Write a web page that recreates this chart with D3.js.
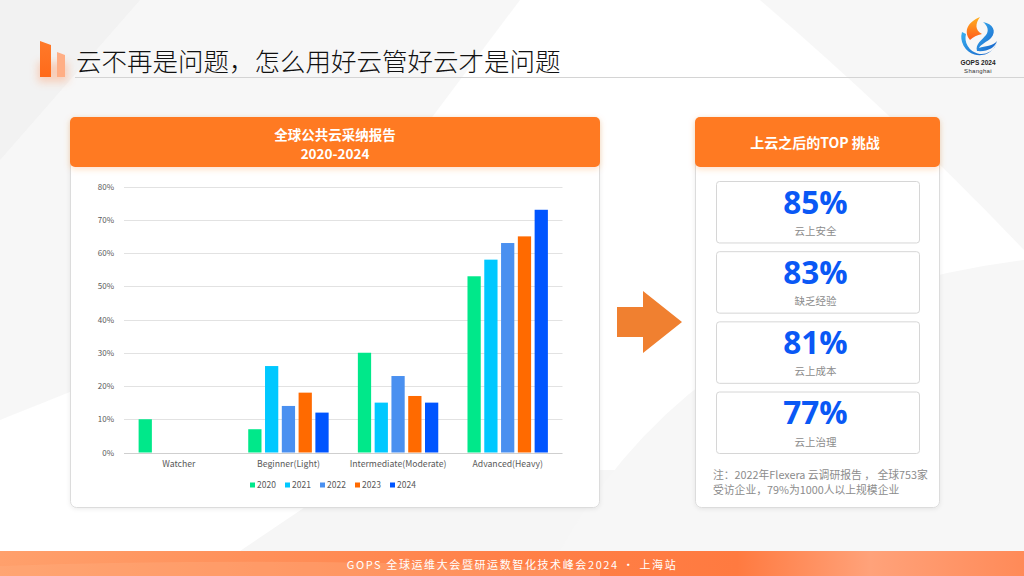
<!DOCTYPE html>
<html><head><meta charset="utf-8">
<script src="https://cdn.jsdelivr.net/npm/d3@7"></script>
<style>
html,body{margin:0;padding:0;background:#fff;}
svg{display:block;}
</style></head>
<body>
<svg id="c" width="1024" height="576"></svg>
<script>
// ---- data ----
const categories = ["Watcher", "Beginner(Light)", "Intermediate(Moderate)", "Advanced(Heavy)"];
const years = ["2020", "2021", "2022", "2023", "2024"];
const v2020 = [0.10, 0.07, 0.30, 0.53];
const v2021 = [null, 0.26, 0.15, 0.58];
const v2022 = [null, 0.14, 0.23, 0.63];
const v2023 = [null, 0.18, 0.17, 0.65];
const v2024 = [null, 0.12, 0.15, 0.73];
const yTicks = [0, 0.1, 0.2, 0.3, 0.4, 0.5, 0.6, 0.7, 0.8];
const yearColors = ["#00E88A", "#00C8FF", "#4A90F0", "#FF6A00", "#0055FF"];
const challengeValues = ["85%", "83%", "81%", "77%"];
const challengeLabels = ["云上安全", "缺乏经验", "云上成本", "云上治理"];
const titleText = "云不再是问题，怎么用好云管好云才是问题";
const chartTitle = ["全球公共云采纳报告", "2020-2024"];
const rightTitle = "上云之后的TOP 挑战";
const noteLines = ["注：2022年Flexera 云调研报告 ， 全球753家", "受访企业，79%为1000人以上规模企业"];
const footerText = "GOPS 全球运维大会暨研运数智化技术峰会2024 · 上海站";

const series = [v2020, v2021, v2022, v2023, v2024];
const FONT = "'Noto Sans CJK SC','Noto Sans',sans-serif";

const svg = d3.select("#c");
const defs = svg.append("defs");

// ---- background ----
svg.append("rect").attr("width", 1024).attr("height", 576).attr("fill", "#ffffff");
svg.append("path").attr("d", "M0,0 L520,0 L430,120 L300,300 L0,420 Z").attr("fill", "#f5f5f5").attr("opacity", 0.8);
svg.append("path").attr("d", "M0,0 L140,0 L0,160 Z").attr("fill", "#efefef").attr("opacity", 0.6);
svg.append("path").attr("d", "M760,0 L1024,0 L1024,250 Q900,120 760,0 Z").attr("fill", "#f5f5f5").attr("opacity", 0.8);
svg.append("path").attr("d", "M240,551 L360,470 L720,470 L800,551 Z").attr("fill", "#f6f6f6");
svg.append("path").attr("d", "M560,551 Q700,300 1024,260 L1024,551 Z").attr("fill", "#f7f7f7");

// shadow filter
const sh = defs.append("filter").attr("id", "sh").attr("x", "-10%").attr("y", "-30%").attr("width", "120%").attr("height", "170%");
sh.append("feDropShadow").attr("dx", 0).attr("dy", 2).attr("stdDeviation", 3).attr("flood-color", "#ff7a22").attr("flood-opacity", 0.25);
const sh2 = defs.append("filter").attr("id", "sh2").attr("x", "-5%").attr("y", "-5%").attr("width", "110%").attr("height", "110%");
sh2.append("feDropShadow").attr("dx", 0).attr("dy", 1).attr("stdDeviation", 2).attr("flood-color", "#000").attr("flood-opacity", 0.08);
const blur = defs.append("filter").attr("id", "blur").attr("x", "-50%").attr("y", "-50%").attr("width", "200%").attr("height", "200%");
blur.append("feGaussianBlur").attr("stdDeviation", 4);

// ---- title ----
const ig = defs.append("linearGradient").attr("id", "ig").attr("x1", 0).attr("y1", 0).attr("x2", 0).attr("y2", 1);
ig.append("stop").attr("offset", 0).attr("stop-color", "#ff7a2a");
ig.append("stop").attr("offset", 1).attr("stop-color", "#ff6a1a");
svg.append("rect").attr("x", 38).attr("y", 62).attr("width", 30).attr("height", 20).attr("fill", "#ff8a50").attr("opacity", 0.35).attr("filter", "url(#blur)");
svg.append("path").attr("d", "M40,41 L51,45 L51,77 L40,77 Z").attr("fill", "url(#ig)");
svg.append("path").attr("d", "M57,52 L65,55 L65,77 L57,77 Z").attr("fill", "#ffae85");
svg.append("text").attr("x", 76).attr("y", 71).attr("font-family", FONT).attr("font-size", 25.5).attr("font-weight", 300)
  .attr("fill", "#111").text(titleText);
svg.append("line").attr("x1", 75).attr("x2", 1024).attr("y1", 77.5).attr("y2", 77.5).attr("stroke", "#d4d4d4").attr("stroke-width", 1);

// ---- logo ----
const logo = svg.append("g");
const lg1 = defs.append("linearGradient").attr("id", "lg1").attr("x1", 0).attr("y1", 0).attr("x2", 1).attr("y2", 1);
lg1.append("stop").attr("offset", 0).attr("stop-color", "#3ab0f0");
lg1.append("stop").attr("offset", 1).attr("stop-color", "#1560c8");
const lg2 = defs.append("linearGradient").attr("id", "lg2").attr("x1", 0).attr("y1", 0).attr("x2", 0).attr("y2", 1);
lg2.append("stop").attr("offset", 0).attr("stop-color", "#ffb020");
lg2.append("stop").attr("offset", 1).attr("stop-color", "#ff5a1a");
logo.append("path").attr("d", "M962,32 A18,18 0 0 0 997,42 A16,16 0 0 1 966,34 Z").attr("fill", "url(#lg1)");
logo.append("path").attr("d", "M970,40 C963,31 968,22 980,17 C975,24 975,30 982,34 C977,35 973,37 970,40 Z").attr("fill", "url(#lg2)");
logo.append("path").attr("d", "M983,22 C993,24 997,31 991,38 C987,42 981,44 979,48 C985,46 993,46 997,41 C995,48 987,52 977,51 C975,44 982,40 986,35 C989,31 988,26 983,22 Z").attr("fill", "url(#lg1)");
logo.append("text").attr("x", 978).attr("y", 64.5).attr("text-anchor", "middle").attr("font-family", "'Liberation Sans',sans-serif")
  .attr("font-size", 6.5).attr("font-weight", 700).attr("fill", "#222").text("GOPS 2024");
logo.append("text").attr("x", 978).attr("y", 72.5).attr("text-anchor", "middle").attr("font-family", "'Liberation Sans',sans-serif")
  .attr("font-size", 6).attr("fill", "#333").attr("letter-spacing", 0.3).text("Shanghai");

// ---- left panel ----
svg.append("rect").attr("x", 70.5).attr("y", 117.5).attr("width", 529).attr("height", 390).attr("rx", 6)
  .attr("fill", "#fff").attr("stroke", "#dcdcdc").attr("filter", "url(#sh2)");
svg.append("rect").attr("x", 70).attr("y", 117).attr("width", 530).attr("height", 50).attr("rx", 5)
  .attr("fill", "#ff7a22").attr("filter", "url(#sh)");
svg.append("text").attr("x", 335).attr("y", 139.5).attr("text-anchor", "middle").attr("font-family", FONT)
  .attr("font-size", 13.5).attr("font-weight", 700).attr("fill", "#fff").text(chartTitle[0]);
svg.append("text").attr("x", 335).attr("y", 158.5).attr("text-anchor", "middle").attr("font-family", FONT)
  .attr("font-size", 13.5).attr("font-weight", 700).attr("fill", "#fff").text(chartTitle[1]);

// chart
const x = d3.scaleBand().domain(categories).range([124, 562.5]).paddingInner(0).paddingOuter(0);
const groupW = 80.4;
const xs = d3.scaleBand().domain(years).range([0, groupW]).paddingInner(0.21).paddingOuter(0);
const y = d3.scaleLinear().domain([0, 0.8]).range([452.5, 186.5]);

const grid = svg.append("g");
grid.selectAll("line").data(yTicks).join("line")
  .attr("x1", 124).attr("x2", 562.5)
  .attr("y1", d => Math.round(y(d)) + 0.5).attr("y2", d => Math.round(y(d)) + 0.5)
  .attr("stroke", d => d === 0 ? "#cfcfcf" : "#e2e2e2").attr("stroke-width", 1);

const yAxis = d3.axisLeft(y).tickValues(yTicks).tickFormat(d3.format(".0%")).tickSize(0).tickPadding(0);
const ya = svg.append("g").attr("transform", "translate(114,0)").call(yAxis);
ya.select(".domain").remove();
ya.selectAll("text").attr("font-family", FONT).attr("font-size", 8).attr("fill", "#595959");

const xAxis = d3.axisBottom(x).tickSize(0).tickPadding(0);
const xa = svg.append("g").attr("transform", "translate(0,464.5)").call(xAxis);
xa.select(".domain").remove();
xa.selectAll("text").attr("font-family", FONT).attr("font-size", 8.7).attr("fill", "#595959").attr("dy", "0.32em");

const flat = [];
categories.forEach((c, i) => {
  years.forEach((yr, j) => {
    const v = series[j][i];
    if (v != null) flat.push({ c, yr, v, j });
  });
});
svg.append("g").selectAll("rect").data(flat).join("rect")
  .attr("x", d => x(d.c) + x.bandwidth() / 2 - groupW / 2 + xs(d.yr))
  .attr("width", xs.bandwidth())
  .attr("y", d => y(d.v))
  .attr("height", d => y(0) - y(d.v))
  .attr("fill", d => yearColors[d.j]);

// legend
const leg = svg.append("g").attr("transform", "translate(250,485)");
const li = leg.selectAll("g").data(years).join("g").attr("transform", (d, i) => `translate(${i * 35},0)`);
li.append("rect").attr("x", 0).attr("y", -2.5).attr("width", 5).attr("height", 5).attr("fill", (d, i) => yearColors[i]);
li.append("text").attr("x", 7).attr("y", 0).attr("dy", "0.35em").attr("font-family", FONT).attr("font-size", 8.5)
  .attr("fill", "#595959").text(d => d);

// ---- arrow ----
svg.append("path").attr("d", "M617,307 L643,307 L643,291 L682,322 L643,353 L643,337 L617,337 Z").attr("fill", "#f08030");

// ---- right panel ----
svg.append("rect").attr("x", 695.5).attr("y", 117.5).attr("width", 244).attr("height", 390).attr("rx", 6)
  .attr("fill", "#fff").attr("stroke", "#dcdcdc").attr("filter", "url(#sh2)");
svg.append("rect").attr("x", 695).attr("y", 117).attr("width", 245).attr("height", 50).attr("rx", 5)
  .attr("fill", "#ff7a22").attr("filter", "url(#sh)");
svg.append("text").attr("x", 815).attr("y", 148).attr("text-anchor", "middle").attr("font-family", FONT)
  .attr("font-size", 14).attr("font-weight", 700).attr("fill", "#fff").text(rightTitle);

const boxY = d3.scaleBand().domain(d3.range(challengeValues.length)).range([181, 453]).paddingInner(0.124).paddingOuter(0);
const bx = svg.append("g").selectAll("g").data(challengeValues).join("g")
  .attr("transform", (d, i) => `translate(716,${boxY(i)})`);
bx.append("rect").attr("x", 0.5).attr("y", 0.5).attr("width", 203).attr("height", boxY.bandwidth()).attr("rx", 3)
  .attr("fill", "#fff").attr("stroke", "#d6d6d6");
bx.append("text").attr("x", 99.5).attr("y", 32.5).attr("text-anchor", "middle").attr("font-family", "'Open Sans','Noto Sans',sans-serif")
  .attr("font-size", 31.5).attr("font-weight", 700).attr("fill", "#0a58f5").text(d => d);
bx.append("text").attr("x", 99.5).attr("y", 54).attr("text-anchor", "middle").attr("font-family", FONT)
  .attr("font-size", 10.5).attr("fill", "#8c8c8c").text((d, i) => challengeLabels[i]);

svg.append("g").selectAll("text").data(noteLines).join("text")
  .attr("x", 713).attr("y", (d, i) => 479 + i * 15)
  .attr("font-family", FONT).attr("font-size", 10.8).attr("fill", "#8c8c8c").text(d => d);

// ---- footer ----
const fg = defs.append("linearGradient").attr("id", "fg").attr("x1", 0).attr("y1", 0).attr("x2", 1).attr("y2", 0);
fg.append("stop").attr("offset", 0).attr("stop-color", "#ffa06c");
fg.append("stop").attr("offset", 0.5).attr("stop-color", "#ff8048");
fg.append("stop").attr("offset", 0.72).attr("stop-color", "#ff7a40");
fg.append("stop").attr("offset", 0.85).attr("stop-color", "#ffa27a");
fg.append("stop").attr("offset", 1).attr("stop-color", "#ff8a58");
svg.append("rect").attr("x", 0).attr("y", 551).attr("width", 1024).attr("height", 25).attr("fill", "url(#fg)");
svg.append("path").attr("d", "M0,566 Q300,556 600,570 L600,576 L0,576 Z").attr("fill", "#ffb080").attr("opacity", 0.35);
svg.append("text").attr("x", 512).attr("y", 565).attr("dy", "0.35em").attr("text-anchor", "middle")
  .attr("font-family", FONT).attr("font-size", 11).attr("letter-spacing", 1.6).attr("fill", "#fff").text(footerText);
</script>
</body></html>
